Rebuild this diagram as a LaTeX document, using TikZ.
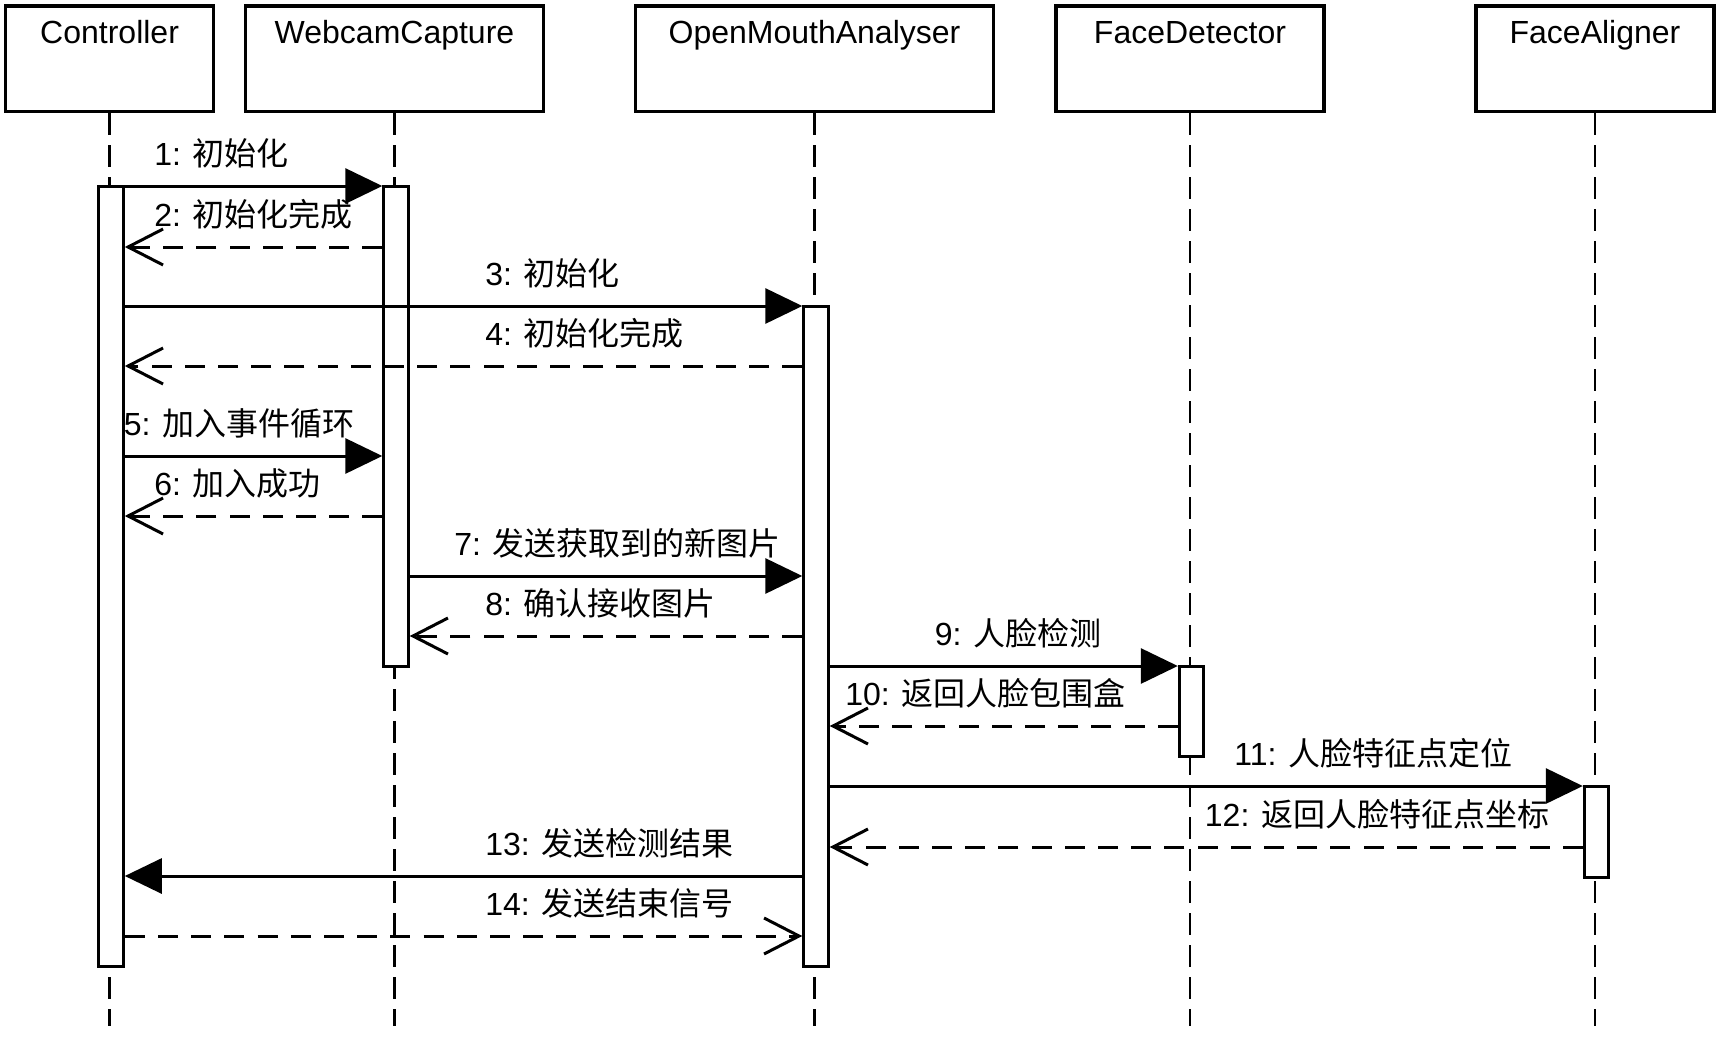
\documentclass[tikz,border=0pt]{standalone}
\usepackage{fontspec}
\setmainfont{Liberation Sans}
\newfontfamily\cjk{Noto Sans CJK SC}
\newcommand\zh[1]{{\cjk #1}}
\usetikzlibrary{arrows.meta,positioning}
\tikzset{
  every node/.style={
    font=\fontsize{16pt}{19pt}\selectfont
  },
  actor/.style={
    draw,
    line width=1.6pt,
    minimum height=52.8pt,
    inner sep=0pt
  },
  lifeline/.style={
    line width=1.35pt,
    dash pattern=on 11pt off 5pt
  },
  activation/.style={
    draw,
    line width=1.5pt,
    fill=white,
    minimum width=12.2pt,
    inner sep=0pt
  },
  call/.style={
    line width=1.5pt,
    -{Triangle[length=18.5pt,width=17.5pt]}
  },
  reply/.style={
    line width=1.5pt,
    dash pattern=on 10pt off 6.6pt,
    -{Straight Barb[length=17.5pt,width=18pt]}
  },
  msg/.style={
    anchor=base west,
    inner sep=0pt
  }
}

\begin{document}
\begin{tikzpicture}[x=0.5pt,y=-0.5pt]
  \useasboundingbox (0,0) rectangle (1728,1038);
  \coordinate (bottom) at (0,1026);

  % participants and lifelines
  \foreach \nm/\x/\w/\txt in {ctl/109.6/104pt/Controller,
      cam/394.5/149pt/WebcamCapture,
      oma/814.5/179pt/OpenMouthAnalyser,
      det/1190/134pt/FaceDetector,
      ali/1595/119pt/FaceAligner}{
    \node[actor, minimum width=\w] (\nm) at (\x,58.85) {};
    \node[anchor=base] at ([yshift=-19.5pt]\nm.north) {\txt};
    \draw[lifeline] (\nm.south) -- (\nm.south |- bottom);
  }

  % activation bars
  \node[activation, minimum height=390pt] (cbar) at (111.1,576) {};
  \node[activation, minimum height=240pt] (wbar) at (396,426) {};
  \node[activation, minimum height=330pt] (obar) at (816,636) {};
  \node[activation, minimum height=45pt] (dbar) at (1191.5,711) {};
  \node[activation, minimum height=45.5pt] (abar) at (1596.5,831.5) {};

  % message rows
  \foreach \i/\y in {1/186,2/247,3/306,4/366,5/456,6/516,7/576,
      8/636,9/666,10/726,11/786,12/847,13/876,14/936}{
    \coordinate (m\i) at (0,\y);
  }

  \draw[call] (cbar.east |- m1) -- (wbar.west |- m1);
  \draw[reply] (wbar.west |- m2) -- (cbar.east |- m2);
  \draw[call] (cbar.east |- m3) -- (obar.west |- m3);
  \draw[reply] (obar.west |- m4) -- (cbar.east |- m4);
  \draw[call] (cbar.east |- m5) -- (wbar.west |- m5);
  \draw[reply] (wbar.west |- m6) -- (cbar.east |- m6);
  \draw[call] (wbar.east |- m7) -- (obar.west |- m7);
  \draw[reply] (obar.west |- m8) -- (wbar.east |- m8);
  \draw[call] (obar.east |- m9) -- (dbar.west |- m9);
  \draw[reply] (dbar.west |- m10) -- (obar.east |- m10);
  \draw[call] (obar.east |- m11) -- (abar.west |- m11);
  \draw[reply] (abar.west |- m12) -- (obar.east |- m12);
  \draw[call] (obar.west |- m13) -- (cbar.east |- m13);
  \draw[reply] (cbar.east |- m14) -- (obar.west |- m14);

  % message labels
  \node[msg] (t1) at (154,165) {1: \zh{初始化}};
  \node[msg] (t2) at (154,226) {2: \zh{初始化完成}};
  \node[msg] (t3) at (485,285) {3: \zh{初始化}};
  \node[msg] (t4) at (485,345) {4: \zh{初始化完成}};
  \node[msg] (t5) at (123.5,435) {5: \zh{加入事件循环}};
  \node[msg] (t6) at (154,495) {6: \zh{加入成功}};
  \node[msg] (t7) at (454,555) {7: \zh{发送获取到的新图片}};
  \node[msg] (t8) at (485,615) {8: \zh{确认接收图片}};
  \node[msg] (t9) at (934.5,645) {9: \zh{人脸检测}};
  \node[msg] (t10) at (845,705) {10: \zh{返回人脸包围盒}};
  \node[msg] (t11) at (1234,765) {11: \zh{人脸特征点定位}};
  \node[msg] (t12) at (1204.5,826) {12: \zh{返回人脸特征点坐标}};
  \node[msg] (t13) at (485,855) {13: \zh{发送检测结果}};
  \node[msg] (t14) at (485,915) {14: \zh{发送结束信号}};
\end{tikzpicture}
\end{document}
